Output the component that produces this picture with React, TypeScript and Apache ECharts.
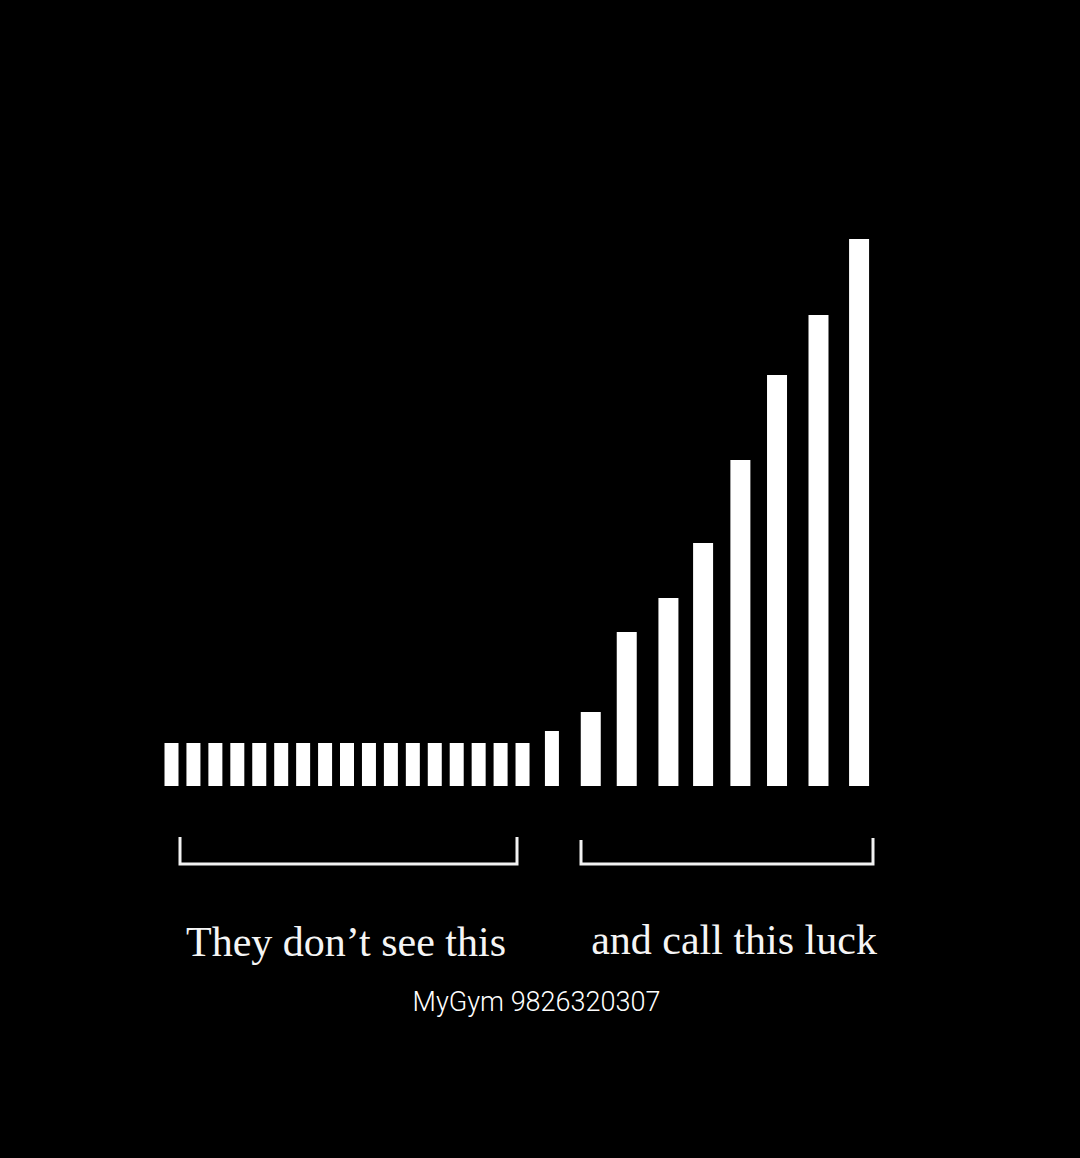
import React, { useEffect, useRef } from "react";
import * as echarts from "echarts";

// Flat "effort" bars: position along the time axis and height
const stepPositions = [0, 1, 2, 3, 4, 5, 6, 7, 8, 9, 10, 11, 12, 13, 14, 15, 16, 17.34];
const stepHeights = [43, 43, 43, 43, 43, 43, 43, 43, 43, 43, 43, 43, 43, 43, 43, 43, 43, 55];

// Growth bars
const growthPositions = [19.11, 20.75, 22.65, 24.23, 25.93, 27.6, 29.49, 31.34];
const growthHeights = [74, 154, 188, 243, 326, 411, 471, 547];

const captionLeft = "They don\u2019t see this";
const captionRight = "and call this luck";
const footer = "MyGym 9826320307";

export default function App() {
  const ref = useRef<HTMLDivElement>(null);
  useEffect(() => {
    document.body.style.margin = "0";
    document.body.style.background = "#000";
    const chart = echarts.init(ref.current!, null, { renderer: "svg" });
    const stepData = stepPositions.map((x, i) => [x, stepHeights[i]]);
    const growthData = growthPositions.map((x, i) => [x, growthHeights[i]]);
    const xCommon = {
      type: "value" as const,
      min: -1,
      max: 33,
      show: false,
      splitLine: { show: false },
    };
    chart.setOption({
      animation: false,
      backgroundColor: "#000000",
      grid: { left: 149.56, right: 184.5, top: 186, bottom: 372 },
      xAxis: [{ ...xCommon }, { ...xCommon }],
      yAxis: { type: "value", min: 0, max: 600, show: false, splitLine: { show: false } },
      series: [
        {
          type: "bar",
          xAxisIndex: 0,
          data: stepData,
          barWidth: 14,
          itemStyle: { color: "#ffffff" },
        },
        {
          type: "bar",
          xAxisIndex: 1,
          data: growthData,
          barWidth: 20,
          itemStyle: { color: "#ffffff" },
        },
      ],
      graphic: [
        {
          type: "polyline",
          shape: { points: [[180, 837], [180, 864], [517, 864], [517, 837]] },
          style: { stroke: "#f2f2f2", lineWidth: 3, fill: "none" },
        },
        {
          type: "polyline",
          shape: { points: [[581, 840], [581, 864], [873, 864], [873, 838]] },
          style: { stroke: "#f2f2f2", lineWidth: 3, fill: "none" },
        },
        {
          type: "text",
          x: 346,
          y: 942,
          style: {
            text: captionLeft,
            fill: "#f5f5f5",
            font: '42px "Liberation Serif", serif',
            textAlign: "center",
            textVerticalAlign: "middle",
          },
        },
        {
          type: "text",
          x: 734,
          y: 940,
          style: {
            text: captionRight,
            fill: "#f5f5f5",
            font: '42px "Liberation Serif", serif',
            textAlign: "center",
            textVerticalAlign: "middle",
          },
        },
        {
          type: "text",
          x: 536.5,
          y: 1002,
          style: {
            text: footer,
            fill: "#ffffff",
            font: '300 27px Roboto, sans-serif',
            textAlign: "center",
            textVerticalAlign: "middle",
          },
        },
      ],
    });
    return () => chart.dispose();
  }, []);
  return (
    <div
      ref={ref}
      style={{ position: "fixed", left: 0, top: 0, width: 1080, height: 1158, background: "#000" }}
    />
  );
}
